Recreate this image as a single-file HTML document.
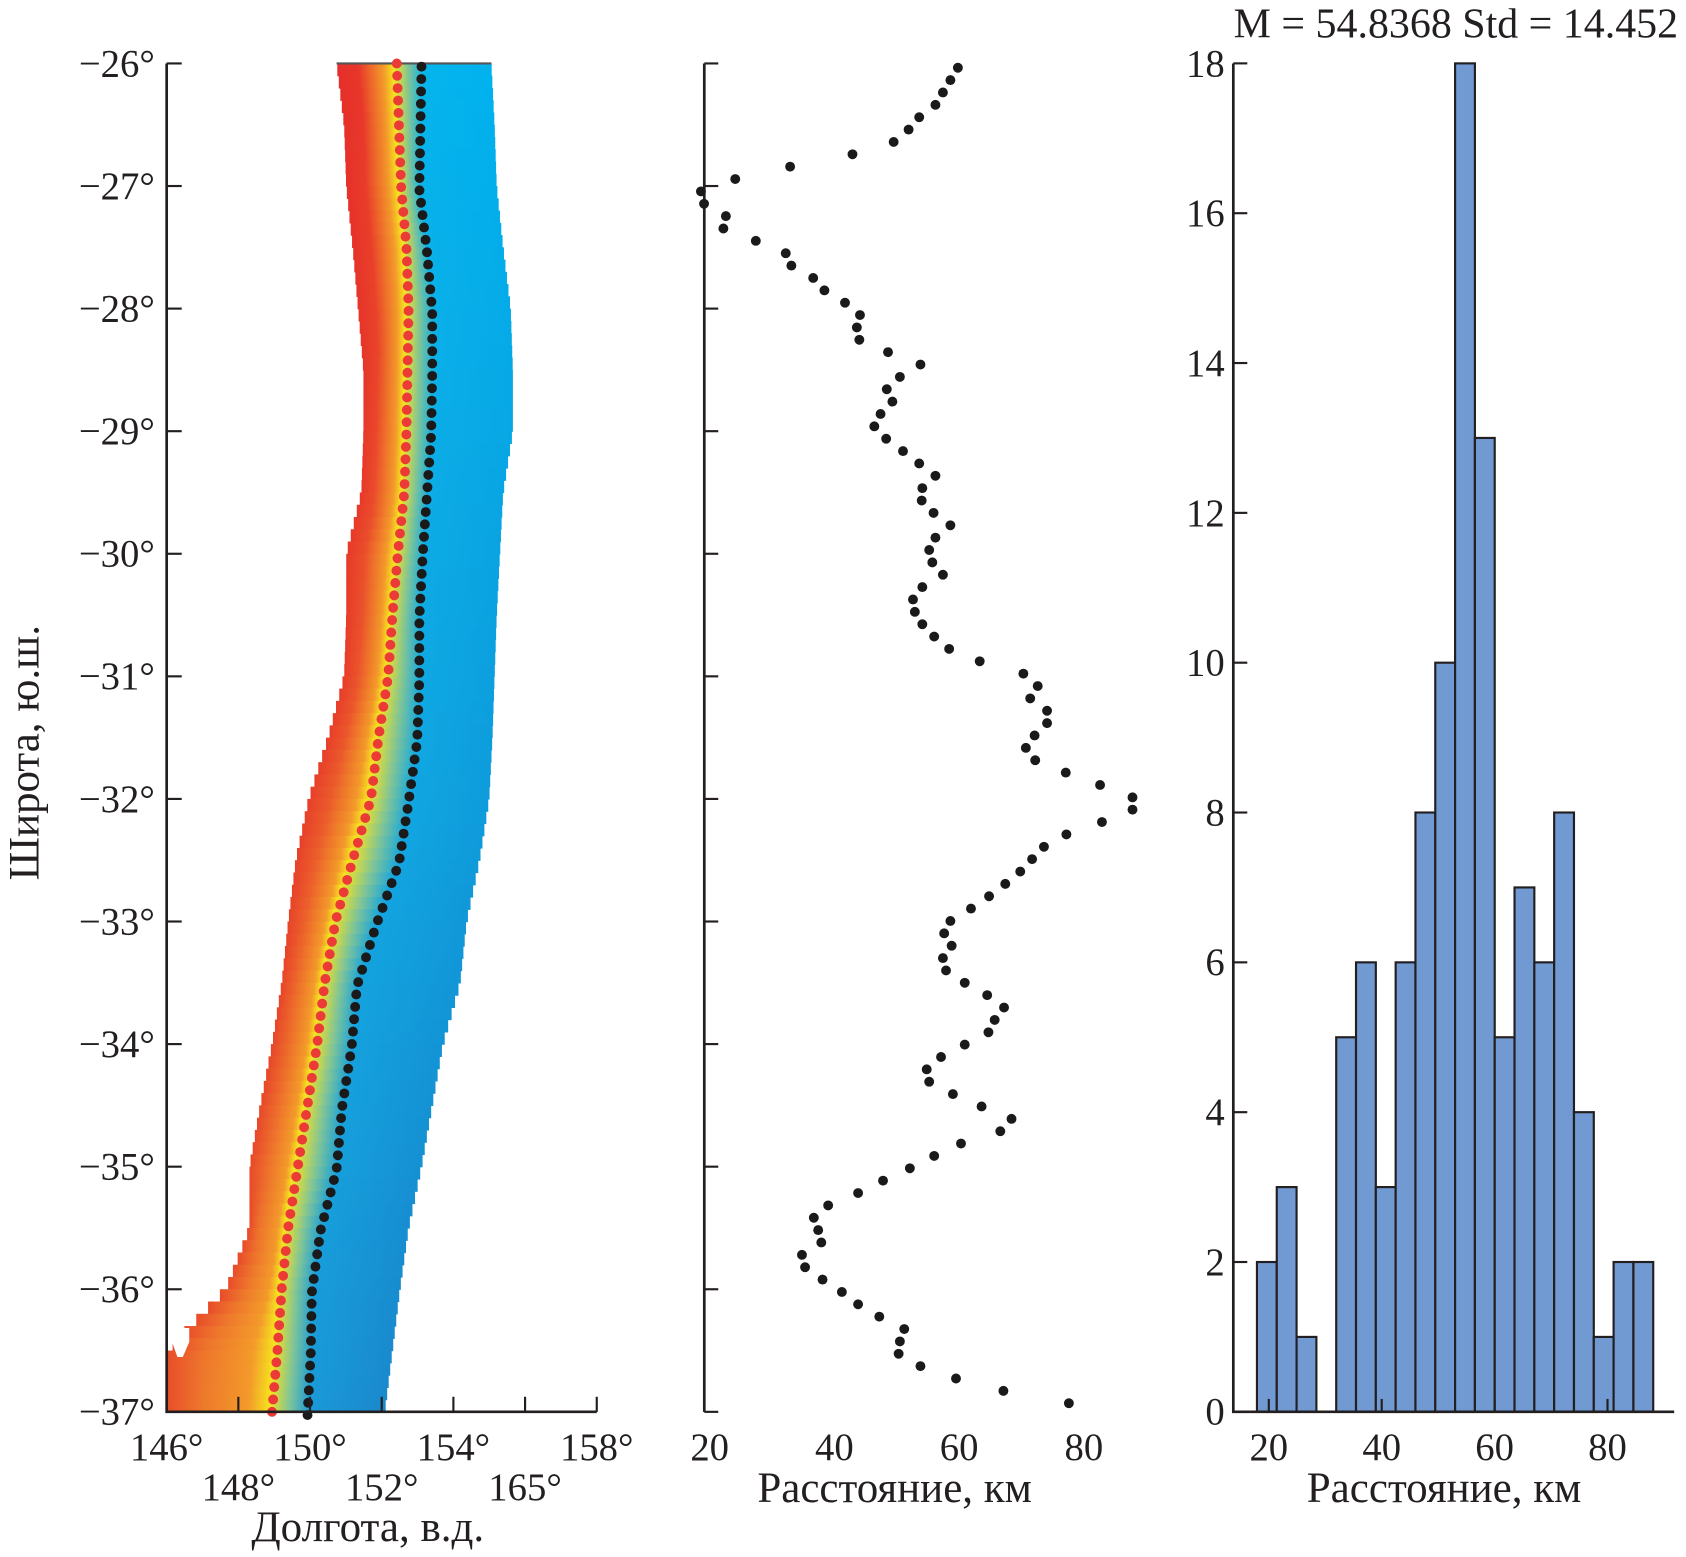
<!DOCTYPE html>
<html><head><meta charset="utf-8">
<style>
html,body{margin:0;padding:0;background:#fff;}
svg{display:block;}
text{font-family:"Liberation Serif",serif;fill:#231f20;}
</style></head>
<body>
<svg id="chart" xmlns="http://www.w3.org/2000/svg" width="1686" height="1557" viewBox="0 0 1568 1448" preserveAspectRatio="none">
<defs id="defs"></defs>
<g id="p1"></g>
<g id="p2"></g>
<g id="p3"></g>
</svg>
<script>
// ---- Panel 1 data (knots every 0.5° latitude from -26 to -37) ----
const knotLat = [-26,-26.5,-27,-27.5,-28,-28.5,-29,-29.5,-30,-30.5,-31,-31.5,-32,-32.5,-33,-33.5,-34,-34.5,-35,-35.5,-36,-36.5,-37];
const fieldLeftLon = [150.74,150.95,151.01,151.19,151.34,151.49,151.49,151.43,151.01,151.01,150.95,150.5,149.96,149.6,149.39,149.21,148.94,148.61,148.31,148.31,147.65,146,146];
const fieldRightLon = [155.06,155.15,155.21,155.39,155.6,155.66,155.66,155.39,155.3,155.21,155.15,155.09,155.0,154.73,154.37,154.19,153.71,153.41,153.11,152.75,152.51,152.3,152.09];
const blackLon = [153.11,153.08,153.05,153.26,153.41,153.41,153.38,153.26,153.14,153.05,153.05,152.99,152.75,152.48,151.85,151.31,151.16,150.89,150.74,150.29,150.05,150.02,149.93];
const redLon = [152.42,152.48,152.54,152.69,152.75,152.72,152.69,152.63,152.45,152.3,152.18,151.91,151.7,151.19,150.71,150.41,150.2,149.93,149.66,149.39,149.21,149.09,148.94];
const lonTicksRow1 = [146,150,154,158];
const lonTickLabelsRow2 = ["148°","152°","165°"];
const lonTicksRow2 = [148,152,156];
const latTicks = [-26,-27,-28,-29,-30,-31,-32,-33,-34,-35,-36,-37];
// ---- Panel 2 data: distance (km) per sample from north to south ----
const distKm = [59.8,58.6,57.4,56.2,53.6,51.9,49.5,42.9,32.9,24.1,18.6,19.1,22.6,22.2,27.4,32.2,33.1,36.6,38.4,41.7,44.1,43.6,44.0,48.6,53.8,50.5,48.4,49.3,47.4,46.4,48.3,51.0,53.6,56.2,54.1,54.0,55.9,58.6,56.2,55.2,55.7,57.4,54.1,52.6,52.9,54.1,56.0,58.4,63.3,70.3,72.6,71.4,74.1,74.1,72.1,70.7,72.2,77.1,82.6,87.8,87.8,82.9,77.2,73.6,71.7,69.8,67.4,64.8,61.9,58.6,57.6,58.8,57.4,57.9,60.9,64.5,67.2,65.7,64.7,60.9,57.1,54.8,55.2,59.0,63.6,68.4,66.6,60.3,56.0,52.1,47.8,43.8,39.0,36.7,37.4,37.9,34.8,35.3,38.1,41.2,43.8,47.2,51.2,50.5,50.3,53.8,59.5,67.1,77.6];
const distTicks = [20,40,60,80];
// ---- Panel 3 data: histogram ----
const histStart = 17.9, histWidth = 3.51;
const histCounts = [2,3,1,0,5,6,3,6,8,10,18,13,5,7,6,8,4,1,2,2];
const countTicks = [0,2,4,6,8,10,12,14,16,18];
const histTitle = "M = 54.8368 Std = 14.452";

const NS = "http://www.w3.org/2000/svg";
const TICK_FS = 36, TITLE_FS = 40;
function mk(tag, attrs, parent){const e=document.createElementNS(NS,tag);for(const k in attrs)e.setAttribute(k,attrs[k]);if(parent)parent.appendChild(e);return e;}
const yLat = lat => 59 + (-26 - lat) * 114;
const xLon = lon => 155 + (lon - 146) * 33.333;
const xKm = km => 660 + (km - 20) * 5.8;
const xH = km => 1180 + (km - 20) * 5.25;
const yH = c => 1313 - c * 69.67;
function interp(arr, lat){const t=(-26-lat)/0.5;let i=Math.floor(t);if(i>=arr.length-1)return arr[arr.length-1];if(i<0)i=0;const f=t-i;return arr[i]*(1-f)+arr[i+1]*f;}
function mix(a,b,t){const p=h=>[1,3,5].map(i=>parseInt(h.substr(i,2),16));const A=p(a),B=p(b);return "#"+A.map((v,i)=>Math.round(v+(B[i]-v)*t).toString(16).padStart(2,"0")).join("");}

const p1=document.getElementById("p1"),p2=document.getElementById("p2"),p3=document.getElementById("p3"),defs=document.getElementById("defs");

// heatmap rows
const nRows = 110, rowH = (1313-59)/nRows;
const field = mk("g",{},p1);


for(let r=0;r<nRows;r++){
  const lat=-26-(r+0.5)*11/nRows;
  const L=xLon(interp(fieldLeftLon,lat)),R=xLon(interp(fieldRightLon,lat));
  const rx=xLon(interp(redLon,lat)),bx=xLon(interp(blackLon,lat));
  const t=r/nRows;
  const span=Math.max(28,(rx-L)*0.65);
  const g=mk("linearGradient",{id:"g"+r,gradientUnits:"userSpaceOnUse",x1:L,y1:0,x2:R,y2:0},defs);
  const stops=[[L,mix("#e62e2a","#e84e2a",t)],[Math.max(L,rx-span),mix("#e8362a","#ee7a2c",t)],[rx-span*0.35,"#f39a2a"],[rx-3,"#f6e31f"],[(rx+bx)/2,"#7cc39a"],[bx+2,mix("#06b4ec","#1a9ad8",t)],[R,mix("#00b2ee","#1a88cc",t)]];
  stops.forEach(s=>{mk("stop",{offset:Math.min(1,Math.max(0,(s[0]-L)/(R-L))),"stop-color":s[1]},g);});
  const rect=mk("rect",{x:L,y:59+r*rowH,width:R-L,height:rowH+0.6,fill:"url(#g"+r+")"},field);
  
  
}
const notch=mk("polygon",{points:"160,1235 176,1235 176,1248 170,1262 165,1262 160,1248",fill:"#fff"},p1);


const topLine=mk("line",{x1:xLon(fieldLeftLon[0]),y1:59,x2:xLon(fieldRightLon[0]),y2:59,stroke:"#555",'stroke-width':2},p1);



// dots panel 1
for(let i=0;i<110;i++){
  const lat=-26-i*11/109;
  const c1=mk("circle",{cx:xLon(interp(redLon,lat)),cy:yLat(lat),r:4.6,fill:"#ec3a36"},p1);
  
  
  const c2=mk("circle",{cx:xLon(interp(blackLon,lat)),cy:yLat(lat)+3,r:4.6,fill:"#1a1a1a"},p1);
  
  
}
// axes panel 1
const ax1=mk("path",{d:"M155,59 V1313 H555",stroke:"#231f20",'stroke-width':2.5,fill:"none"},p1);


latTicks.forEach(l=>{
  const y=yLat(l);
  mk("line",{x1:155,y1:y,x2:169,y2:y,stroke:"#231f20",'stroke-width':2},p1);
  const tx=mk("text",{x:144,y:y+12,'font-size':TICK_FS,'text-anchor':'end'},p1);
  tx.textContent="\u2212"+Math.abs(l)+"°";
  
  
});
[146,148,150,152,154,156,158].forEach(l=>{mk("line",{x1:xLon(l),y1:1313,x2:xLon(l),y2:1299,stroke:"#231f20",'stroke-width':2},p1);});
lonTicksRow1.forEach(l=>{
  const tx=mk("text",{x:xLon(l),y:1358,'font-size':TICK_FS,'text-anchor':'middle'},p1);
  tx.textContent=l+"°";
  
  
});
lonTicksRow2.forEach((l,i)=>{
  const tx=mk("text",{x:xLon(l),y:1395,'font-size':TICK_FS,'text-anchor':'middle'},p1);
  tx.textContent=lonTickLabelsRow2[i];
  
  
});
const xl1=mk("text",{x:342,y:1433,'font-size':TITLE_FS,'text-anchor':'middle'},p1);
xl1.textContent="Долгота, в.д.";


const yl1=mk("text",{x:0,y:0,'font-size':TITLE_FS,'text-anchor':'middle',transform:"translate(36,700) rotate(-90)"},p1);
yl1.textContent="Широта, ю.ш.";



// ---- Panel 2 ----
const ax2=mk("line",{x1:655,y1:59,x2:655,y2:1313,stroke:"#231f20",'stroke-width':2.5},p2);


latTicks.forEach(l=>{mk("line",{x1:655,y1:yLat(l),x2:668,y2:yLat(l),stroke:"#231f20",'stroke-width':2},p2);});
distKm.forEach((d,i)=>{
  const c=mk("circle",{cx:xKm(d),cy:63+i*(1305-63)/(distKm.length-1),r:4.6,fill:"#1a1a1a"},p2);
  
  
});
distTicks.forEach(v=>{
  const tx=mk("text",{x:xKm(v),y:1358,'font-size':TICK_FS,'text-anchor':'middle'},p2);
  tx.textContent=v;
  
  
});
const xl2=mk("text",{x:832,y:1397,'font-size':TITLE_FS,'text-anchor':'middle'},p2);
xl2.textContent="Расстояние, км";



// ---- Panel 3 ----
histCounts.forEach((c,i)=>{
  if(c<=0)return;
  const x0=xH(histStart+i*histWidth),x1=xH(histStart+(i+1)*histWidth);
  const b=mk("rect",{x:x0,y:yH(c),width:x1-x0,height:1313-yH(c),fill:"#7199d2",stroke:"#231f20",'stroke-width':2},p3);
  
  
});
const ax3=mk("path",{d:"M1147,59 V1313 H1557",stroke:"#231f20",'stroke-width':2.5,fill:"none"},p3);


countTicks.forEach(v=>{
  mk("line",{x1:1147,y1:yH(v),x2:1160,y2:yH(v),stroke:"#231f20",'stroke-width':2},p3);
  const tx=mk("text",{x:1139,y:yH(v)+12,'font-size':TICK_FS,'text-anchor':'end'},p3);
  tx.textContent=v;
  
  
});
distTicks.forEach(v=>{
  mk("line",{x1:xH(v),y1:1313,x2:xH(v),y2:1301,stroke:"#231f20",'stroke-width':2},p3);
  const tx=mk("text",{x:xH(v),y:1358,'font-size':TICK_FS,'text-anchor':'middle'},p3);
  tx.textContent=v;
  
  
});
const xl3=mk("text",{x:1343,y:1397,'font-size':TITLE_FS,'text-anchor':'middle'},p3);
xl3.textContent="Расстояние, км";


const tt=mk("text",{x:1354,y:35,'font-size':39,'text-anchor':'middle'},p3);
tt.textContent=histTitle;


</script>
</body></html>
